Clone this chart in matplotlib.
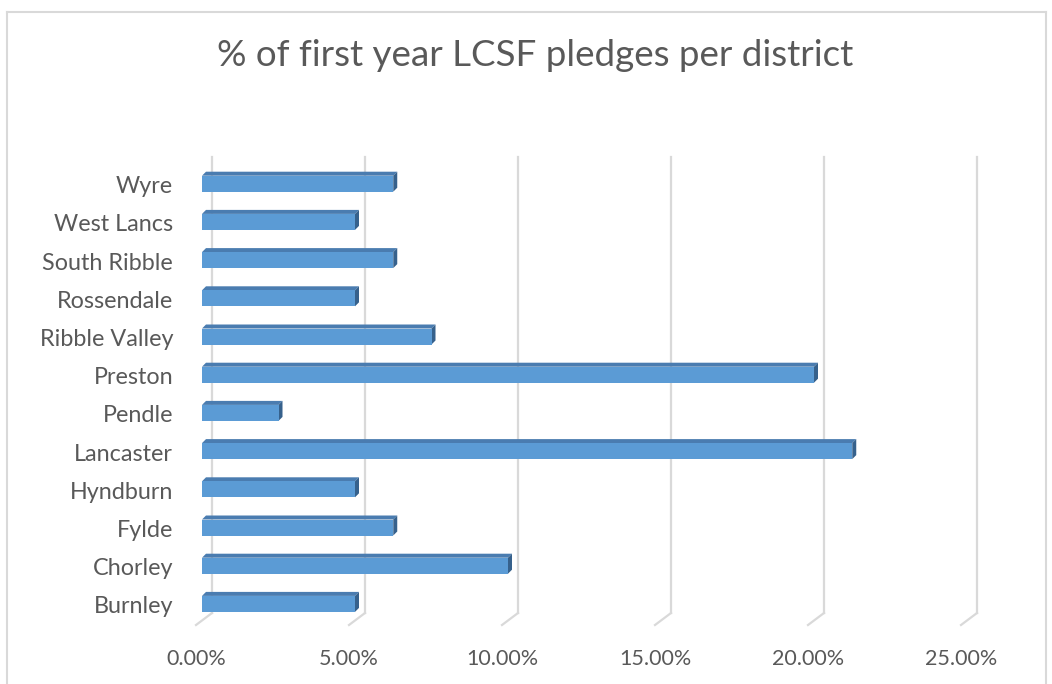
import matplotlib.pyplot as plt
from matplotlib.patches import Rectangle, Polygon
from matplotlib.lines import Line2D

districts = ["Burnley", "Chorley", "Fylde", "Hyndburn", "Lancaster", "Pendle",
             "Preston", "Ribble Valley", "Rossendale", "South Ribble",
             "West Lancs", "Wyre"]
pledges = [5.0, 10.0, 6.25, 5.0, 21.25, 2.5, 20.0, 7.5, 5.0, 6.25, 5.0, 6.25]
xticks = [0, 5, 10, 15, 20, 25]
xtick_labels = ["0.00%", "5.00%", "10.00%", "15.00%", "20.00%", "25.00%"]

W, H = 1052, 684
plt.rcParams['font.family'] = ['Lato', 'DejaVu Sans']
fig = plt.figure(figsize=(W / 100, H / 100), dpi=100)

# front plane: 0% at px 202, 30.6 px per percent; rows 38.2 px apart
px_x, px_y = 30.6, 38.2
left_px, bottom_px = 202, 622
ax = fig.add_axes([left_px / W, (H - bottom_px) / H,
                   25 * px_x / W, 12 * px_y / H])
ax.set_xlim(0, 25)
ax.set_ylim(-0.5, 11.5)
ax.axis("off")


def dx(p):
    return p / px_x


def dy(p):
    return p / px_y


grey = "#d9d9d9"
txt = "#595959"
# back wall grid lines + floor edge
back_dx, floor_top = dx(10), -0.5 + dy(9)
wall_top = 11.5 + dy(7)
for t, lab in zip(xticks, xtick_labels):
    xb = t + back_dx
    ax.add_line(Line2D([xb, xb], [floor_top, wall_top], color=grey, lw=1.6,
                       clip_on=False, zorder=1))
    ax.add_line(Line2D([xb, xb - dx(16)], [floor_top, floor_top - dy(12)],
                       color=grey, lw=1.6, clip_on=False, zorder=1))
    ax.text(xb - dx(16), floor_top - dy(46), lab,
            ha="center", va="center", fontsize=15.5, color=txt)

# 3D-style bars
bh = dy(16)
ox, oy = dx(4), dy(4)
for i, v in enumerate(pledges):
    b, t = i - bh / 2 - dy(1), i + bh / 2 - dy(1)
    ax.add_patch(Polygon([(0, t), (v, t), (v + ox, t + oy), (ox, t + oy)],
                         closed=True, fc="#4a7cb0", ec="none", zorder=3))
    ax.add_patch(Polygon([(v, b), (v, t), (v + ox, t + oy), (v + ox, b + oy)],
                         closed=True, fc="#36618c", ec="none", zorder=3))
    ax.add_patch(Rectangle((0, b), v, bh, fc="#5b9bd5", ec="none", zorder=4))
    ax.text(-dx(29), i - dy(4), districts[i], ha="right", va="center",
            fontsize=16.8, color=txt)

fig.text(535 / W, 1 - 55 / H, "% of first year LCSF pledges per district",
         ha="center", va="center", fontsize=26.5, color=txt)

# chart border
fig.add_artist(Line2D([7 / W, 7 / W], [0, 1 - 12 / H], color=grey, lw=1.5))
fig.add_artist(Line2D([7 / W, 1046 / W], [1 - 12 / H, 1 - 12 / H],
                      color=grey, lw=1.5))
fig.add_artist(Line2D([1046 / W, 1046 / W], [0, 1 - 12 / H], color=grey,
                      lw=1.5))

fig.savefig("out.png", dpi=100)
